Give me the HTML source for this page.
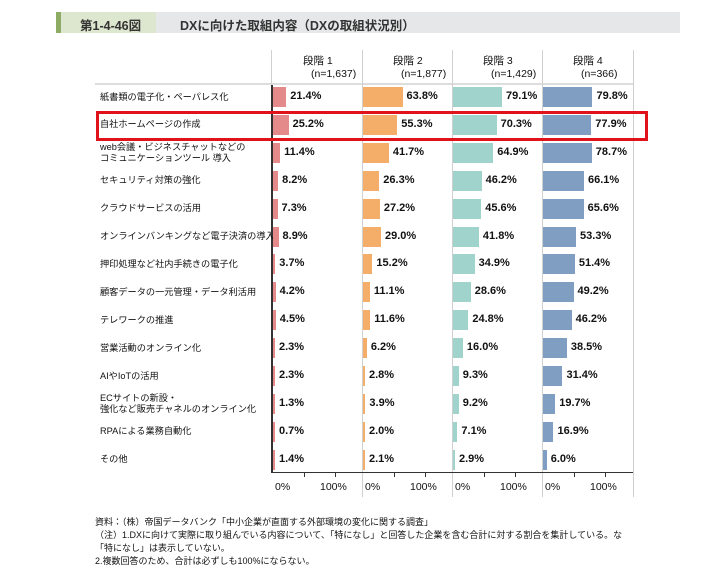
<!DOCTYPE html><html><head><meta charset="utf-8"><style>
body{margin:0;width:715px;height:581px;background:#fff;position:relative;font-family:"Liberation Sans","Noto Sans CJK JP",sans-serif;color:#111;overflow:hidden}
div{position:absolute;white-space:nowrap}
.lab{left:100px;font-size:9.2px;line-height:11px}
.v{font-size:11px;font-weight:bold}
.bar{height:20px}
.tk{font-size:10.5px;top:481px}
.fn{left:95px;font-size:9px}
</style></head><body>
<div style="left:56px;top:12px;width:624px;height:21px;background:#e6e7e8"></div>
<div style="left:56px;top:12px;width:5px;height:21px;background:#8fac64"></div>
<div style="left:61px;top:12px;width:95px;height:21px;background:#dde6cf"></div>
<div style="left:80px;top:15px;font-size:12.5px;font-weight:bold;color:#333">第1-4-46図</div>
<div style="left:180px;top:15px;font-size:12.5px;font-weight:bold;color:#333">DXに向けた取組内容（DXの取組状況別）</div>
<div style="left:95px;top:83px;width:538px;height:2px;background:#ddd"></div>
<div style="left:362px;top:50px;width:1px;height:447px;background:#d0d0d0"></div>
<div style="left:452px;top:50px;width:1px;height:447px;background:#d0d0d0"></div>
<div style="left:542px;top:50px;width:1px;height:447px;background:#d0d0d0"></div>
<div style="left:633px;top:50px;width:1px;height:447px;background:#d0d0d0"></div>
<div style="left:271px;top:50px;width:1px;height:35px;background:#d0d0d0"></div>
<div style="left:271px;top:85px;width:2px;height:388px;background:#333"></div>
<div style="left:272px;top:472px;width:361px;height:1px;background:#333"></div>
<div id="c"></div>
<div style="left:96px;top:111px;width:546px;height:24px;border:3px solid #e0131b"></div>
<div class="fn" style="top:515px">資料：（株）帝国データバンク「中小企業が直面する外部環境の変化に関する調査」</div>
<div class="fn" style="top:528px">（注）1.DXに向けて実際に取り組んでいる内容について、「特になし」と回答した企業を含む合計に対する割合を集計している。な</div>
<div class="fn" style="top:541px">「特になし」は表示していない。</div>
<div class="fn" style="top:554px">2.複数回答のため、合計は必ずしも100%にならない。</div>
<script>
const rows=[["紙書類の電子化・ペーパレス化",21.4,63.8,79.1,79.8],["自社ホームページの作成",25.2,55.3,70.3,77.9],["web会議・ビジネスチャットなどの<br>コミュニケーションツール 導入",11.4,41.7,64.9,78.7],["セキュリティ対策の強化",8.2,26.3,46.2,66.1],["クラウドサービスの活用",7.3,27.2,45.6,65.6],["オンラインバンキングなど電子決済の導入",8.9,29.0,41.8,53.3],["押印処理など社内手続きの電子化",3.7,15.2,34.9,51.4],["顧客データの一元管理・データ利活用",4.2,11.1,28.6,49.2],["テレワークの推進",4.5,11.6,24.8,46.2],["営業活動のオンライン化",2.3,6.2,16.0,38.5],["AIやIoTの活用",2.3,2.8,9.3,31.4],["ECサイトの新設・<br>強化など販売チャネルのオンライン化",1.3,3.9,9.2,19.7],["RPAによる業務自動化",0.7,2.0,7.1,16.9],["その他",1.4,2.1,2.9,6.0]];
const cols=["#e58a8a","#f4ae6a","#9fd3cc","#7f9ec2"],x0=[273,363,453,543],ns=["1,637","1,877","1,429","366"];
let h="";
for(let p=0;p<4;p++){h+=`<div style="left:${x0[p]+30}px;top:53px;font-size:10.5px">段階 ${p+1}</div><div style="left:${x0[p]+38}px;top:68px;font-size:10.5px">(n=${ns[p]})</div>`;
h+=`<div class="tk" style="left:${x0[p]+2}px">0%</div><div class="tk" style="left:${x0[p]+47}px">100%</div>`;
for(const t of[31,62])h+=`<div style="left:${x0[p]+t}px;top:473px;width:1px;height:4px;background:#333"></div>`;}
rows.forEach((r,i)=>{const y=97+i*27.9;const two=r[0].includes("<br>");
h+=`<div class="lab" style="top:${y-(two?11:5.5)}px">${r[0]}</div>`;
for(let p=0;p<4;p++){const w=Math.max(2,r[p+1]*0.62);h+=`<div class="bar" style="left:${x0[p]}px;top:${y-10}px;width:${w}px;background:${cols[p]}"></div><div class="v" style="left:${x0[p]+w+4}px;top:${y-7}px">${r[p+1].toFixed(1)}%</div>`;}});
document.getElementById("c").outerHTML=h;
</script>
</body></html>
